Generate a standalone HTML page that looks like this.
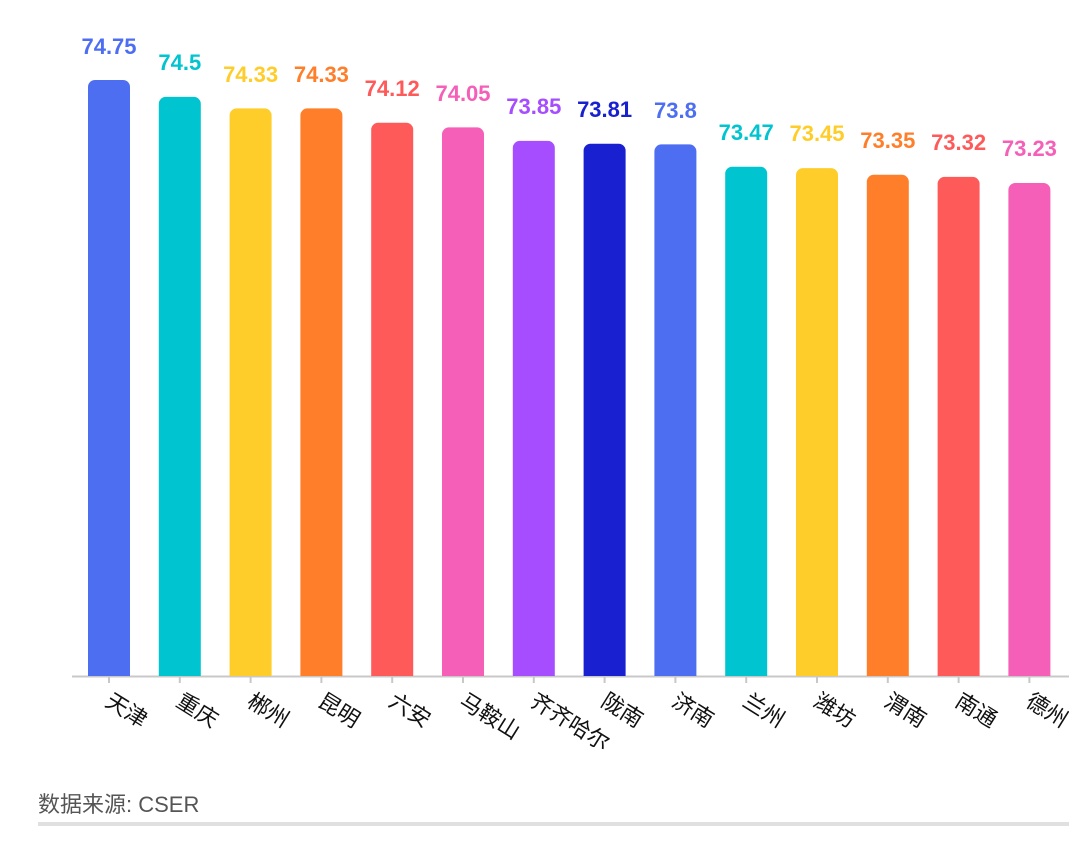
<!DOCTYPE html>
<html><head><meta charset="utf-8"><style>body{margin:0;background:#fff}</style></head><body>
<svg width="1069" height="839" xmlns="http://www.w3.org/2000/svg" font-family="'Liberation Sans','Noto Sans CJK SC',sans-serif">
<line x1="72" y1="676.5" x2="1069" y2="676.5" stroke="#c8c8c8" stroke-width="2"/>
<g>
<path d="M88 676V87a7 7 0 0 1 7-7h28a7 7 0 0 1 7 7V676Z" fill="#4e6ef2"/>
<path d="M158.8 676V103.9a7 7 0 0 1 7-7h28a7 7 0 0 1 7 7V676Z" fill="#00c4cf"/>
<path d="M229.6 676V115.4a7 7 0 0 1 7-7h28a7 7 0 0 1 7 7V676Z" fill="#ffcd2a"/>
<path d="M300.4 676V115.4a7 7 0 0 1 7-7h28a7 7 0 0 1 7 7V676Z" fill="#ff7e2a"/>
<path d="M371.2 676V129.7a7 7 0 0 1 7-7h28a7 7 0 0 1 7 7V676Z" fill="#ff5a5a"/>
<path d="M442 676V134.4a7 7 0 0 1 7-7h28a7 7 0 0 1 7 7V676Z" fill="#f55fb7"/>
<path d="M512.8 676V147.9a7 7 0 0 1 7-7h28a7 7 0 0 1 7 7V676Z" fill="#a64dff"/>
<path d="M583.6 676V150.7a7 7 0 0 1 7-7h28a7 7 0 0 1 7 7V676Z" fill="#1820cf"/>
<path d="M654.4 676V151.4a7 7 0 0 1 7-7h28a7 7 0 0 1 7 7V676Z" fill="#4e6ef2"/>
<path d="M725.2 676V173.7a7 7 0 0 1 7-7h28a7 7 0 0 1 7 7V676Z" fill="#00c4cf"/>
<path d="M796 676V175.1a7 7 0 0 1 7-7h28a7 7 0 0 1 7 7V676Z" fill="#ffcd2a"/>
<path d="M866.8 676V181.8a7 7 0 0 1 7-7h28a7 7 0 0 1 7 7V676Z" fill="#ff7e2a"/>
<path d="M937.6 676V183.9a7 7 0 0 1 7-7h28a7 7 0 0 1 7 7V676Z" fill="#ff5a5a"/>
<path d="M1008.4 676V190a7 7 0 0 1 7-7h28a7 7 0 0 1 7 7V676Z" fill="#f55fb7"/>
</g>
<g stroke="#c8c8c8" stroke-width="2">
<line x1="109" y1="677" x2="109" y2="683"/><line x1="179.8" y1="677" x2="179.8" y2="683"/><line x1="250.6" y1="677" x2="250.6" y2="683"/><line x1="321.4" y1="677" x2="321.4" y2="683"/><line x1="392.2" y1="677" x2="392.2" y2="683"/><line x1="463" y1="677" x2="463" y2="683"/><line x1="533.8" y1="677" x2="533.8" y2="683"/><line x1="604.6" y1="677" x2="604.6" y2="683"/><line x1="675.4" y1="677" x2="675.4" y2="683"/><line x1="746.2" y1="677" x2="746.2" y2="683"/><line x1="817" y1="677" x2="817" y2="683"/><line x1="887.8" y1="677" x2="887.8" y2="683"/><line x1="958.6" y1="677" x2="958.6" y2="683"/><line x1="1029.4" y1="677" x2="1029.4" y2="683"/>
</g>
<g font-size="22" font-weight="bold" text-anchor="middle">
<text x="109" y="54" fill="#4e6ef2">74.75</text>
<text x="179.8" y="70" fill="#00c4cf">74.5</text>
<text x="250.6" y="82" fill="#ffcd2a">74.33</text>
<text x="321.4" y="82" fill="#ff7e2a">74.33</text>
<text x="392.2" y="96" fill="#ff5a5a">74.12</text>
<text x="463" y="101" fill="#f55fb7">74.05</text>
<text x="533.8" y="114" fill="#a64dff">73.85</text>
<text x="604.6" y="117" fill="#1820cf">73.81</text>
<text x="675.4" y="118" fill="#4e6ef2">73.8</text>
<text x="746.2" y="140" fill="#00c4cf">73.47</text>
<text x="817" y="141" fill="#ffcd2a">73.45</text>
<text x="887.8" y="148" fill="#ff7e2a">73.35</text>
<text x="958.6" y="150" fill="#ff5a5a">73.32</text>
<text x="1029.4" y="156" fill="#f55fb7">73.23</text>
</g>
<g font-size="22" fill="#111">
<text transform="translate(104,705) rotate(32)">天津</text>
<text transform="translate(174.8,705) rotate(32)">重庆</text>
<text transform="translate(245.6,705) rotate(32)">郴州</text>
<text transform="translate(316.4,705) rotate(32)">昆明</text>
<text transform="translate(387.2,705) rotate(32)">六安</text>
<text transform="translate(458,705) rotate(32)">马鞍山</text>
<text transform="translate(528.8,705) rotate(32)">齐齐哈尔</text>
<text transform="translate(599.6,705) rotate(32)">陇南</text>
<text transform="translate(670.4,705) rotate(32)">济南</text>
<text transform="translate(741.2,705) rotate(32)">兰州</text>
<text transform="translate(812,705) rotate(32)">潍坊</text>
<text transform="translate(882.8,705) rotate(32)">渭南</text>
<text transform="translate(953.6,705) rotate(32)">南通</text>
<text transform="translate(1024.4,705) rotate(32)">德州</text>
</g>
<text x="38" y="812" font-size="22" fill="#555">数据来源: CSER</text>
<rect x="38" y="822" width="1031" height="4" fill="#e0e0e0"/>
</svg>
</body></html>
